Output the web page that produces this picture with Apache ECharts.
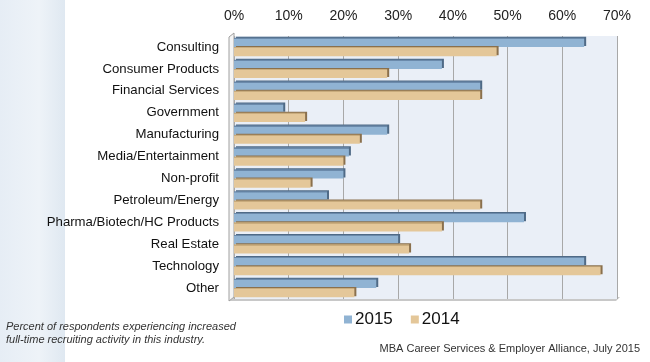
<!DOCTYPE html>
<html><head><meta charset="utf-8">
<script src="https://cdn.jsdelivr.net/npm/echarts@6/dist/echarts.min.js"></script>
<style>html,body{margin:0;padding:0;background:#fff}#c{width:650px;height:362px}</style>
</head><body><div id="c"></div>
<script>
var categories = ['Consulting','Consumer Products','Financial Services','Government','Manufacturing','Media/Entertainment','Non-profit','Petroleum/Energy','Pharma/Biotech/HC Products','Real Estate','Technology','Other'];
var values2015 = [64, 38, 45, 9, 28, 21, 20, 17, 53, 30, 64, 26];
var values2014 = [48, 28, 45, 13, 23, 20, 14, 45, 38, 32, 67, 22];
var tickValues = [0, 10, 20, 30, 40, 50, 60, 70];
var seriesNames = ['2015', '2014'];

var chart = echarts.init(document.getElementById('c'), null, {renderer:'canvas'});
var font = 'Liberation Sans, Arial, sans-serif';
function grad(edge, main){
  return new echarts.graphic.LinearGradient(0,0,0,1,[{offset:0,color:edge},{offset:0.14,color:edge},{offset:0.15,color:main},{offset:1,color:main}]);
}
chart.setOption({
  animation: false,
  backgroundColor: '#fff',
  graphic: [
    {type:'rect', z:-10, shape:{x:0,y:0,width:65,height:362},
     style:{fill:new echarts.graphic.LinearGradient(0,0,1,0,[{offset:0,color:'#e6edf5'},{offset:0.6,color:'#eef3f8'},{offset:1,color:'#dfe8f1'}])}},
    {type:'polygon', z:-5, shape:{points:[[229,301],[616,301],[620,297],[234,297]]}, style:{fill:'#c8c8c8'}},
    {type:'polygon', z:-5, shape:{points:[[229,301],[234,297],[234,33],[229,37]]}, style:{fill:'#f4f4f4', stroke:'#a0a0a0', lineWidth:1}},
    {type:'text', left:6, top:320, style:{text:'Percent of respondents experiencing increased\nfull-time recruiting activity in this industry.', font:'italic 11px Liberation Sans, Arial, sans-serif', fill:'#333', lineHeight:13}},
    {type:'text', right:10, top:343, style:{text:'MBA Career Services & Employer Alliance, July 2015', font:'11px Liberation Sans, Arial, sans-serif', fill:'#333'}}
  ],
  legend: {
    data: [{name:'2015', itemStyle:{color:'#90b3d3', borderWidth:0}}, {name:'2014', itemStyle:{color:'#e4c799', borderWidth:0}}],
    left: 339, top: 306, itemWidth: 8, itemHeight: 8, itemGap: 18,
    icon: 'rect', textStyle: {fontSize: 17, fontFamily: font, color: '#111', padding:[0,0,0,-2]}
  },
  grid: {left: 234, right: 33, top: 36, bottom: 63, show: true, backgroundColor: '#eaeff7', borderWidth: 0},
  xAxis: {
    type: 'value', position: 'top', min: 0, max: 70, interval: 10,
    axisLabel: {formatter: function(v){ return tickValues.indexOf(v) >= 0 ? v + '%' : ''; }, fontSize: 14, fontFamily: font, color: '#222', margin: 13},
    axisLine: {show: false}, axisTick: {show: false},
    splitLine: {show: true, lineStyle: {color: '#a8a8a8', width: 1}}
  },
  yAxis: {
    type: 'category', data: categories, inverse: true,
    axisLabel: {fontSize: 13.2, fontFamily: font, color: '#111', margin: 15},
    axisLine: {show: false}, axisTick: {show: false}
  },
  series: [
    {name: '2015', type: 'bar', data: values2015, barGap: '0%', barCategoryGap: '16%',
     itemStyle: {color: grad('#6b8aab', '#90b3d3'),
       shadowColor: '#4f6a86', shadowOffsetX: 2, shadowOffsetY: -1, shadowBlur: 0}},
    {name: '2014', type: 'bar', data: values2014, barGap: '0%', barCategoryGap: '16%',
     itemStyle: {color: grad('#c9ac7d', '#e4c799'),
       shadowColor: '#8a704d', shadowOffsetX: 2, shadowOffsetY: -1, shadowBlur: 0}}
  ]
});
</script></body></html>
